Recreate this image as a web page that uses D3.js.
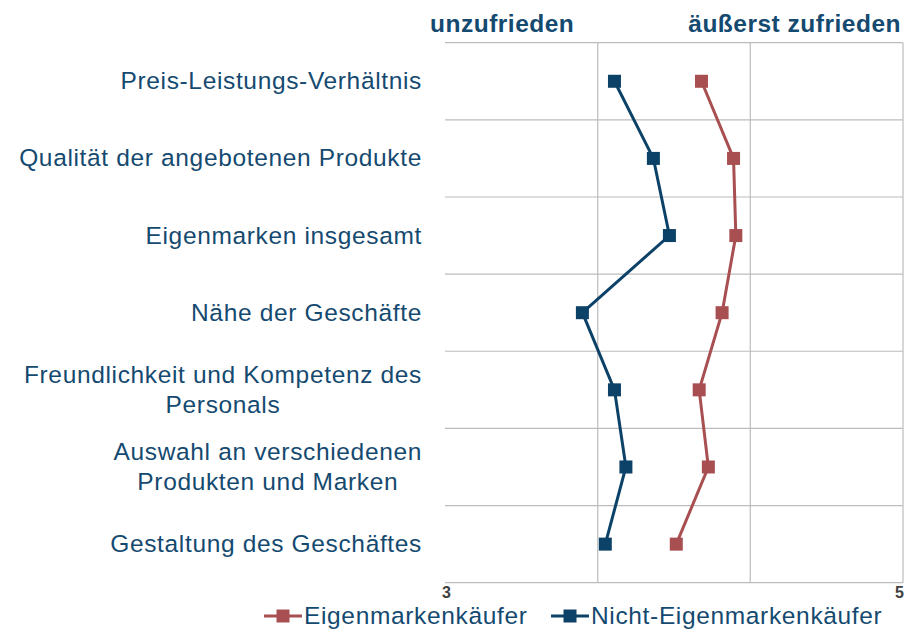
<!DOCTYPE html>
<html>
<head>
<meta charset="utf-8">
<script src="https://cdn.jsdelivr.net/npm/d3@7"></script>
<style>
  html, body { margin: 0; padding: 0; background: #fff; }
  #chart { width: 919px; height: 630px; }
  text { font-family: "Liberation Sans", Arial, sans-serif; }
</style>
</head>
<body>
<div id="chart"></div>
<script>
// categories, top to bottom (line breaks as in the picture)
const categories = [
  ["Preis-Leistungs-Verhältnis"],
  ["Qualität der angebotenen Produkte"],
  ["Eigenmarken insgesamt"],
  ["Nähe der Geschäfte"],
  ["Freundlichkeit und Kompetenz des", "Personals"],
  ["Auswahl an verschiedenen", "Produkten und Marken"],
  ["Gestaltung des Geschäftes"]
];
const eigenmarken = [4.12, 4.26, 4.27, 4.21, 4.11, 4.15, 4.01];
const nichtEigenmarken = [3.74, 3.91, 3.98, 3.60, 3.74, 3.79, 3.70];
const seriesNames = ["Eigenmarkenkäufer", "Nicht-Eigenmarkenkäufer"];
const xDomain = [3, 5];
const gridValues = [3.667, 4.333, 5];
const tickLabels = ["3", "5"];
const headerLeft = "unzufrieden";
const headerRight = "äußerst zufrieden";

window.addEventListener("DOMContentLoaded", () => {
  const W = 919, H = 630;
  const left = 445, right = 903, top = 42.7, bottom = 582.7;
  const blue = "#0c4168", red = "#a84f51", textCol = "#154a70", gridCol = "#bcbcbc";
  const fs = 24.5, ls = 0.65;

  const svg = d3.select("#chart").append("svg")
    .attr("width", W).attr("height", H);

  const x = d3.scaleLinear().domain(xDomain).range([left, right]);
  const y = d3.scaleBand().domain(d3.range(categories.length)).range([top, bottom]);
  const cy = i => y(i) + y.bandwidth() / 2;

  // horizontal grid lines at band edges
  const edges = d3.range(categories.length).map(i => y(i)).concat([bottom]);
  svg.append("g").selectAll("line").data(edges).enter().append("line")
    .attr("x1", left).attr("x2", right)
    .attr("y1", d => d).attr("y2", d => d)
    .attr("stroke", gridCol).attr("stroke-width", 1.2);

  // vertical grid lines
  svg.append("g").selectAll("line").data(gridValues).enter().append("line")
    .attr("x1", d => x(d)).attr("x2", d => x(d))
    .attr("y1", top).attr("y2", bottom)
    .attr("stroke", gridCol).attr("stroke-width", 1.2);

  // x tick labels (only ends)
  svg.append("text").attr("x", x(xDomain[0]) - 3).attr("y", 598)
    .style("font-size", "16px").attr("font-weight", "bold").attr("fill", "#404040")
    .text(tickLabels[0]);
  svg.append("text").attr("x", x(xDomain[1]) + 1).attr("y", 598)
    .attr("text-anchor", "end")
    .style("font-size", "16px").attr("font-weight", "bold").attr("fill", "#404040")
    .text(tickLabels[1]);

  // headers
  svg.append("text").attr("x", 430).attr("y", 32)
    .attr("font-size", fs).attr("font-weight", "bold").attr("letter-spacing", 0.5)
    .attr("fill", textCol).text(headerLeft);
  svg.append("text").attr("x", 901).attr("y", 32).attr("text-anchor", "end")
    .attr("font-size", fs).attr("font-weight", "bold").attr("letter-spacing", 0.5)
    .attr("fill", textCol).text(headerRight);

  // category labels: block right aligned, lines centred
  const labelRight = 422, lineH = 30;
  categories.forEach((lines, i) => {
    const t = svg.append("text")
      .attr("font-size", fs).attr("letter-spacing", ls)
      .attr("fill", textCol).attr("text-anchor", "middle");
    const spans = lines.map(l => t.append("tspan").text(l));
    const maxW = d3.max(spans, s => s.node().getComputedTextLength());
    const mid = labelRight - maxW / 2;
    const y0 = cy(i) - (lines.length - 1) * lineH / 2 + 8;
    spans.forEach((s, k) => s.attr("x", mid).attr("y", y0 + k * lineH));
  });

  // series
  const line = d3.line().x(d => x(d.v)).y(d => cy(d.i));
  const series = [
    { name: seriesNames[0], values: eigenmarken, color: red },
    { name: seriesNames[1], values: nichtEigenmarken, color: blue }
  ];
  const ms = 13;
  series.forEach(s => {
    const pts = s.values.map((v, i) => ({ v, i }));
    svg.append("path").datum(pts)
      .attr("d", line).attr("fill", "none")
      .attr("stroke", s.color).attr("stroke-width", 3);
    svg.append("g").selectAll("rect").data(pts).enter().append("rect")
      .attr("x", d => x(d.v) - ms / 2).attr("y", d => cy(d.i) - ms / 2)
      .attr("width", ms).attr("height", ms).attr("fill", s.color);
  });

  // legend
  const legendY = 616;
  const legendItems = [
    { name: series[0].name, color: red, x0: 264 },
    { name: series[1].name, color: blue, x0: 551 }
  ];
  legendItems.forEach(it => {
    const g = svg.append("g");
    g.append("line").attr("x1", it.x0).attr("x2", it.x0 + 38)
      .attr("y1", legendY).attr("y2", legendY)
      .attr("stroke", it.color).attr("stroke-width", 3);
    g.append("rect").attr("x", it.x0 + 19 - 6.5).attr("y", legendY - 6.5)
      .attr("width", 13).attr("height", 13).attr("fill", it.color);
    g.append("text").attr("x", it.x0 + 40).attr("y", legendY + 8)
      .attr("font-size", fs).attr("letter-spacing", ls)
      .attr("fill", textCol).text(it.name);
  });
});
</script>
</body>
</html>
